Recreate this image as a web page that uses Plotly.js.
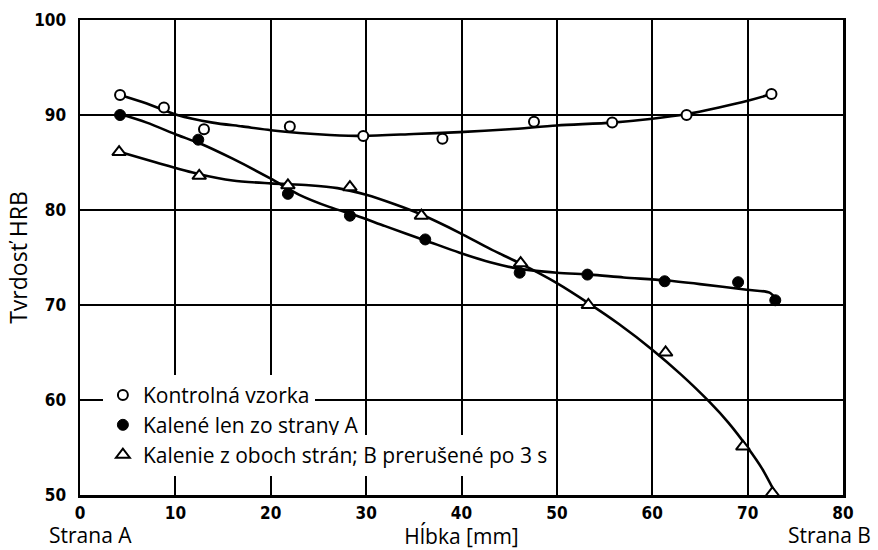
<!DOCTYPE html>
<html>
<head>
<meta charset="utf-8">
<script src="https://cdn.plot.ly/plotly-3.0.1.min.js"></script>
<style>html,body{margin:0;padding:0;background:#fff;}#chart{width:878px;height:550px;}</style>
</head>
<body>
<div id="chart"></div>
<script>
// Measured points
const kontrolX = [4.2, 8.8, 13.0, 22.0, 29.7, 38.0, 47.6, 55.8, 63.6, 72.5];
const kontrolY = [92.1, 90.8, 88.5, 88.8, 87.8, 87.5, 89.3, 89.2, 90.0, 92.2];
const kaleneX = [4.2, 12.4, 21.8, 28.3, 36.2, 46.1, 53.2, 61.3, 69.0, 72.9];
const kaleneY = [90.0, 87.4, 81.7, 79.4, 76.9, 73.4, 73.2, 72.5, 72.4, 70.5];
const obeX = [4.1, 12.5, 21.8, 28.3, 35.8, 46.2, 53.3, 61.4, 69.5, 72.6];
const obeY = [86.1, 83.6, 82.6, 82.4, 79.4, 74.4, 70.0, 65.0, 55.1, 50.2];

// Fitted curves
const kontrolCurveX = [4.2, 7, 10.2, 13.9, 17, 20, 23, 26.2, 29.7, 35, 39.8, 45, 50, 55.8, 60, 63.6, 67, 70, 72.5];
const kontrolCurveY = [92.1, 91.2, 90.0, 89.2, 88.8, 88.4, 88.1, 87.9, 87.8, 88.0, 88.2, 88.5, 88.9, 89.2, 89.6, 90.1, 90.8, 91.5, 92.2];
const kaleneCurveX = [4.2, 7, 10.2, 12.6, 16, 20, 23, 26.2, 29, 32, 36.2, 39.8, 43, 46.1, 50, 53.5, 57, 61.3, 65, 69.9, 72.3, 73.0];
const kaleneCurveY = [90.1, 89.2, 87.9, 87.0, 85.4, 83.3, 81.6, 80.3, 79.4, 78.3, 76.8, 75.5, 74.5, 73.8, 73.4, 73.2, 72.9, 72.6, 72.2, 71.6, 71.3, 70.6];
const obeCurveX = [4.2, 8, 12.4, 16, 20, 24, 27, 30, 33, 35.6, 39.8, 43, 46.1, 50, 53.3, 56.5, 60, 63, 66, 68, 70, 71.5, 73.0];
const obeCurveY = [86.1, 85.0, 83.8, 83.1, 82.8, 82.6, 82.3, 81.6, 80.6, 79.6, 77.6, 75.9, 74.4, 72.3, 70.2, 68.0, 65.3, 62.7, 59.8, 57.6, 55.0, 52.8, 50.0];

const seriesNames = ["Kontrolná vzorka", "Kalené len zo strany A", "Kalenie z oboch strán; B prerušené po 3 s"];
const xTicks = [0, 10, 20, 30, 40, 50, 60, 70, 80];
const yTicks = [50, 60, 70, 80, 90, 100];

const lineStyle = {color: "#000", width: 2.6, shape: "spline", smoothing: 0.8};
const traces = [
  {x: kontrolCurveX, y: kontrolCurveY, mode: "lines", line: lineStyle, showlegend: false, hoverinfo: "skip"},
  {x: kaleneCurveX, y: kaleneCurveY, mode: "lines", line: lineStyle, showlegend: false, hoverinfo: "skip"},
  {x: obeCurveX, y: obeCurveY, mode: "lines", line: lineStyle, showlegend: false, hoverinfo: "skip"},
  {x: kontrolX, y: kontrolY, mode: "markers", name: seriesNames[0], legend: "legend",
   marker: {symbol: "circle", size: 10, color: "#fff", line: {color: "#000", width: 2}}},
  {x: kaleneX, y: kaleneY, mode: "markers", name: seriesNames[1], legend: "legend2",
   marker: {symbol: "circle", size: 11, color: "#000", line: {color: "#000", width: 1}}},
  {x: obeX, y: obeY, mode: "markers", name: seriesNames[2], legend: "legend3",
   marker: {symbol: "triangle-up", size: 12, color: "#fff", line: {color: "#000", width: 2}}}
];

const tickFont = {family: "Liberation Sans Narrow, DejaVu Sans Condensed, Arial Narrow, sans-serif", size: 17, color: "#000", weight: "bold"};
const textFont = {family: "Open Sans, Noto Sans, sans-serif", size: 21, color: "#000"};
const titleFont = {family: "Open Sans, Noto Sans, sans-serif", size: 21, color: "#000"};
const sideFont = {family: "Open Sans, Noto Sans, sans-serif", size: 21, color: "#000"};
const yTitleFont = {family: "Open Sans, Noto Sans, sans-serif", size: 23, color: "#000"};
const legendBase = {bgcolor: "#fff", borderwidth: 0, font: textFont, xanchor: "left", yanchor: "middle",
  itemsizing: "trace", tracegroupgap: 0};

const layout = {
  width: 878, height: 550,
  margin: {l: 80, r: 35, t: 20, b: 55},
  paper_bgcolor: "#fff", plot_bgcolor: "#fff",
  xaxis: {range: [0, 80], tickvals: xTicks, ticktext: xTicks.map(String), showgrid: true, gridcolor: "#000", gridwidth: 2,
    showline: true, linecolor: "#000", linewidth: 2.5, mirror: true, zeroline: false, ticks: "",
    tickfont: tickFont, ticklabelstandoff: 1,
    title: {text: "Hĺbka [mm]", font: titleFont, standoff: 6}},
  yaxis: {range: [50, 100], tickvals: yTicks, ticktext: yTicks.map(String), showgrid: true, gridcolor: "#000", gridwidth: 2,
    showline: true, linecolor: "#000", linewidth: 2.5, mirror: true, zeroline: false, ticks: "",
    tickfont: tickFont, ticklabelstandoff: 8,
    title: {text: "Tvrdosť HRB", font: yTitleFont, standoff: 0}},
  legend: Object.assign({}, legendBase, {x: 0.03, y: 0.21}),
  legend2: Object.assign({}, legendBase, {x: 0.03, y: 0.147}),
  legend3: Object.assign({}, legendBase, {x: 0.03, y: 0.084}),
  annotations: [
    {text: "Strana A", xref: "paper", yref: "paper", x: 0, y: 0, xshift: -33, yshift: -40, xanchor: "left", yanchor: "middle", showarrow: false, font: sideFont},
    {text: "Strana B", xref: "paper", yref: "paper", x: 1, y: 0, xshift: 30, yshift: -40, xanchor: "right", yanchor: "middle", showarrow: false, font: sideFont}
  ],
  showlegend: true
};

Plotly.newPlot("chart", traces, layout, {displayModeBar: false, staticPlot: true});
</script>
</body>
</html>
